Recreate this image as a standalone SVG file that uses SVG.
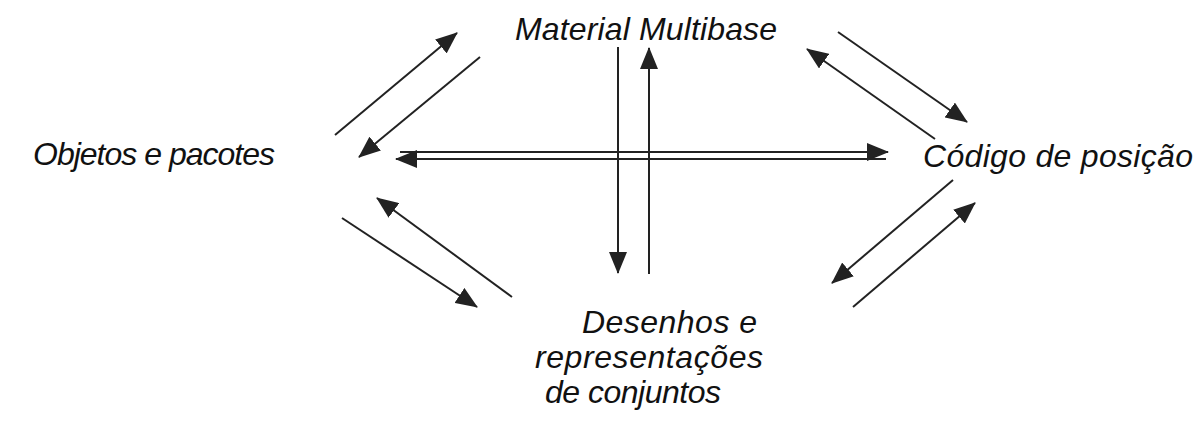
<svg xmlns="http://www.w3.org/2000/svg" width="1197" height="424" viewBox="0 0 1197 424">
  <style>
    .lbl { font-family: "Liberation Sans", Arial, sans-serif; font-style: italic; font-size: 32px; fill: #111; }
    .arr { stroke: #222; stroke-width: 2; fill: none; marker-end: url(#head); }
  </style>
  <defs>
    <marker id="head" markerUnits="userSpaceOnUse" markerWidth="22" markerHeight="18" refX="21" refY="9" orient="auto">
      <path d="M0,0 L22,9 L0,18 z" fill="#222"/>
    </marker>
  </defs>
  <rect width="1197" height="424" fill="#fff"/>

  <g id="node-material">
    <text class="lbl" x="515" y="40" textLength="262">Material Multibase</text>
  </g>
  <g id="node-objetos">
    <text class="lbl" x="33" y="165" textLength="242">Objetos e pacotes</text>
  </g>
  <g id="node-codigo">
    <text class="lbl" x="923" y="167" textLength="270">Código de posição</text>
  </g>
  <g id="node-desenhos">
    <text class="lbl" x="582" y="333" textLength="175">Desenhos e</text>
    <text class="lbl" x="535" y="368" textLength="228">representações</text>
    <text class="lbl" x="545" y="403" textLength="176">de conjuntos</text>
  </g>

  <g id="connectors">
    <!-- Objetos <-> Material -->
    <line class="arr" x1="335" y1="135" x2="457" y2="33"/>
    <line class="arr" x1="480" y1="57" x2="359" y2="157"/>
    <!-- Material <-> Código -->
    <line class="arr" x1="838" y1="32" x2="967" y2="122"/>
    <line class="arr" x1="935" y1="139" x2="807" y2="49"/>
    <!-- Objetos <-> Código -->
    <line class="arr" x1="400" y1="152" x2="888" y2="152"/>
    <line class="arr" x1="886" y1="159" x2="396" y2="159"/>
    <!-- Material <-> Desenhos -->
    <line class="arr" x1="618" y1="47" x2="618" y2="273"/>
    <line class="arr" x1="649" y1="274" x2="649" y2="48"/>
    <!-- Objetos <-> Desenhos -->
    <line class="arr" x1="512" y1="297" x2="377" y2="198"/>
    <line class="arr" x1="342" y1="218" x2="477" y2="307"/>
    <!-- Código <-> Desenhos -->
    <line class="arr" x1="953" y1="180" x2="832" y2="283"/>
    <line class="arr" x1="853" y1="307" x2="975" y2="203"/>
  </g>
</svg>
